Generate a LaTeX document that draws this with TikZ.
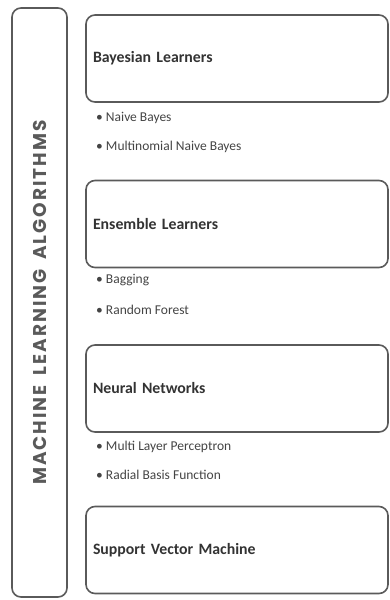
\documentclass[tikz,border=0pt]{standalone}
\usepackage{fontspec}
\setmainfont{Carlito}
\newfontfamily\sidefont[LetterSpace=11,WordSpace=1.6]{Poppins}
\usetikzlibrary{positioning}
\definecolor{boxline}{HTML}{5A5A5A}
\definecolor{headtext}{HTML}{333333}
\definecolor{itemtext}{HTML}{444444}
\tikzset{
  catbox/.style={draw=boxline, line width=1.6pt, rounded corners=9pt,
    text width=288pt, inner xsep=7pt, minimum height=87pt, align=left,
    font=\fontsize{15.8}{18}\selectfont\bfseries, text=headtext},
  sidebox/.style={draw=boxline, line width=1.6pt, rounded corners=9pt,
    rotate=90, minimum width=589pt, minimum height=55pt,
    font=\sidefont\fontsize{18.5}{20}\selectfont\bfseries, text=boxline},
  item/.style={anchor=west, inner sep=0pt, text=itemtext,
    font=\fontsize{13.5}{15}\selectfont}
}
\begin{document}
\begin{tikzpicture}[x=1pt,y=-1pt]
  \useasboundingbox (0,0) rectangle (389,600);
  % left: tall label box
  \node[sidebox] (mla) at (39.5,302.5) {MACHINE LEARNING ALGORITHMS};
  % right: the four families
  \node[catbox] (bayes) at (237,58.5) {Bayesian Learners};
  \node[catbox] (ens) at (237,224) {Ensemble Learners};
  \node[catbox] (nn) at (237,388.5) {Neural Networks};
  \node[catbox] (svm) at (237,550) {Support Vector Machine};
  % members under each box
  \node[item] (nb) at (96,118) {\textbullet\ Naive Bayes};
  \node[item] (mnb) at (96,147) {\textbullet\ Multinomial Naive Bayes};
  \node[item] (bag) at (96,280) {\textbullet\ Bagging};
  \node[item] (rf) at (96,310) {\textbullet\ Random Forest};
  \node[item] (mlp) at (96,447) {\textbullet\ Multi Layer Perceptron};
  \node[item] (rbf) at (96,475) {\textbullet\ Radial Basis Function};
\end{tikzpicture}
\end{document}
